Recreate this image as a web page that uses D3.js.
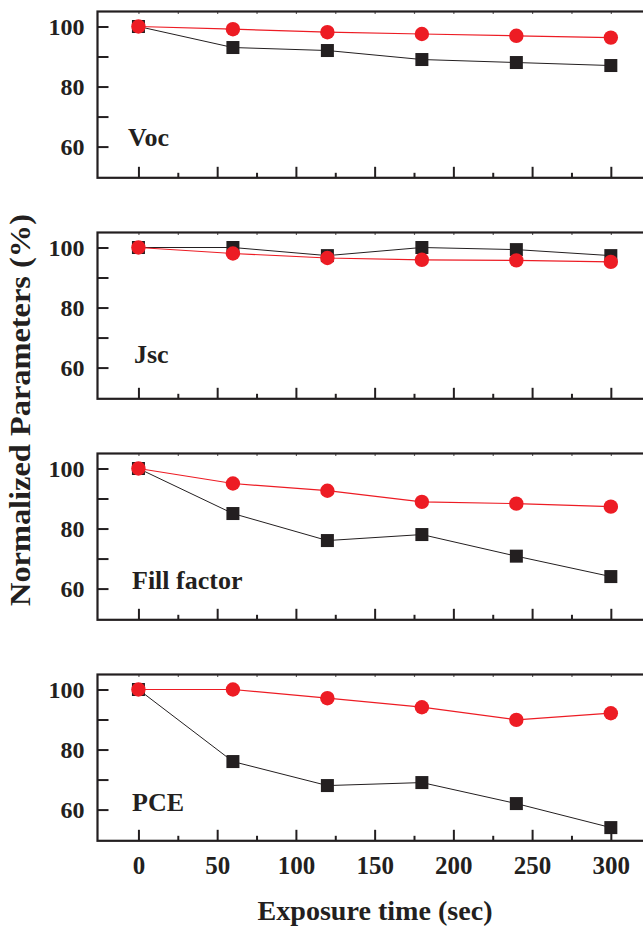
<!DOCTYPE html>
<html><head><meta charset="utf-8">
<script src="https://cdn.jsdelivr.net/npm/d3@7"></script>
<style>body{margin:0;background:#fff}</style>
</head><body><svg id="c" width="643" height="926"></svg>
<script>
// ---- data ----
const times = [0, 60, 120, 180, 240, 300];
const panelNames = ["Voc", "Jsc", "Fill factor", "PCE"];
const blackVoc = [100, 93, 92, 89, 88, 87];
const redVoc   = [100, 99.1, 98.1, 97.5, 96.9, 96.3];
const blackJsc = [100, 100, 97.3, 100, 99.3, 97.3];
const redJsc   = [100, 98, 96.5, 95.9, 95.7, 95.2];
const blackFF  = [100, 85, 76, 78, 70.8, 64];
const redFF    = [100, 95, 92.6, 88.9, 88.3, 87.3];
const blackPCE = [100, 76, 68, 69, 62, 54];
const redPCE   = [100, 100, 97.1, 94.1, 89.9, 92.1];
const xTicks = [0, 50, 100, 150, 200, 250, 300];
const xMinor = [-25, 25, 75, 125, 175, 225, 275, 325];
const yTicks = [60, 80, 100];
const yMinor = [70, 90];
const xTitle = "Exposure time (sec)";
const yTitle = "Normalized Parameters (%)";

const blackSeries = [blackVoc, blackJsc, blackFF, blackPCE];
const redSeries = [redVoc, redJsc, redFF, redPCE];

// ---- layout ----
const FONT = "'Liberation Serif','Times New Roman',serif";
const BLACK = "#231f20", RED = "#ed1c24";
const left = 97.5, right = 645;
const panelTop0 = 11.5, panelStep = 221, panelH = 166.3;
const labelOffsets = [134, 130, 135, 136];
const labelX = [128, 134, 132, 132];

const svg = d3.select("#c");
const x = d3.scaleLinear().domain([-26, 321.7]).range([left, right]);

panelNames.forEach((name, i) => {
  const top = panelTop0 + i * panelStep;
  const bottom = top + panelH;
  const y = d3.scaleLinear().domain([49.6, 105]).range([bottom, top]);
  const g = svg.append("g");

  const xa = g.append("g").attr("transform", `translate(0,${bottom})`)
    .call(d3.axisBottom(x).tickValues(xTicks).tickSizeInner(-11).tickSizeOuter(0).tickPadding(15)
      .tickFormat(i === 3 ? d3.format("d") : () => ""));
  xa.select(".domain").remove();
  xa.selectAll("line").attr("stroke", BLACK).attr("stroke-width", 2);
  xa.selectAll("text").attr("font-family", FONT).attr("font-weight", "bold")
    .attr("font-size", 25).attr("fill", BLACK);
  const xm = g.append("g").attr("transform", `translate(0,${bottom})`)
    .call(d3.axisBottom(x).tickValues(xMinor.filter(v => x(v) > left + 2 && x(v) < 643)).tickSizeInner(-5).tickSizeOuter(0).tickFormat(() => ""));
  xm.select(".domain").remove();
  xm.selectAll("line").attr("stroke", BLACK).attr("stroke-width", 2);
  const xt = g.append("g").attr("transform", `translate(0,${top})`)
    .call(d3.axisTop(x).tickValues(xTicks.concat(xMinor).filter(v => x(v) > left + 2 && x(v) < 643)).tickSizeInner(-2.5).tickSizeOuter(0).tickFormat(() => ""));
  xt.select(".domain").remove();
  xt.selectAll("line").attr("stroke", BLACK).attr("stroke-width", 1.2).attr("opacity", 0.7);

  const ya = g.append("g").attr("transform", `translate(${left},0)`)
    .call(d3.axisLeft(y).tickValues(yTicks).tickSizeInner(-11).tickSizeOuter(0).tickPadding(13).tickFormat(d3.format("d")));
  ya.select(".domain").remove();
  ya.selectAll("line").attr("stroke", BLACK).attr("stroke-width", 2);
  ya.selectAll("text").attr("font-family", FONT).attr("font-weight", "bold")
    .attr("font-size", 24).attr("fill", BLACK);
  const ym = g.append("g").attr("transform", `translate(${left},0)`)
    .call(d3.axisLeft(y).tickValues(yMinor).tickSizeInner(-11).tickSizeOuter(0).tickFormat(() => ""));
  ym.select(".domain").remove();
  ym.selectAll("line").attr("stroke", BLACK).attr("stroke-width", 2);

  g.append("rect").attr("x", left).attr("y", top).attr("width", right - left).attr("height", panelH)
    .attr("fill", "none").attr("stroke", BLACK).attr("stroke-width", 2.2);

  g.append("text").attr("x", labelX[i]).attr("y", top + labelOffsets[i]).text(name)
    .attr("font-family", FONT).attr("font-weight", "bold").attr("font-size", 26).attr("fill", BLACK);

  const line = d3.line().x((d, j) => x(times[j])).y(d => y(d));
  g.append("path").datum(blackSeries[i]).attr("d", line).attr("fill", "none")
    .attr("stroke", BLACK).attr("stroke-width", 1);
  g.selectAll(".sq").data(blackSeries[i]).enter().append("rect")
    .attr("x", (d, j) => x(times[j]) - 6.5).attr("y", d => y(d) - 6.5)
    .attr("width", 13).attr("height", 13).attr("fill", BLACK);
  g.append("path").datum(redSeries[i]).attr("d", line).attr("fill", "none")
    .attr("stroke", RED).attr("stroke-width", 1.2);
  g.selectAll(".ci").data(redSeries[i]).enter().append("circle")
    .attr("cx", (d, j) => x(times[j])).attr("cy", d => y(d)).attr("r", 7.2).attr("fill", RED);
});

svg.append("text").attr("x", 375).attr("y", 920).attr("text-anchor", "middle")
  .attr("font-family", FONT).attr("font-weight", "bold").attr("font-size", 28).attr("fill", BLACK)
  .attr("textLength", 235).attr("lengthAdjust", "spacingAndGlyphs").text(xTitle);
svg.append("text").attr("transform", "translate(30,410) rotate(-90)").attr("text-anchor", "middle")
  .attr("font-family", FONT).attr("font-weight", "bold").attr("font-size", 29).attr("fill", BLACK)
  .attr("textLength", 392).attr("lengthAdjust", "spacingAndGlyphs").text(yTitle);
</script>
</body></html>
